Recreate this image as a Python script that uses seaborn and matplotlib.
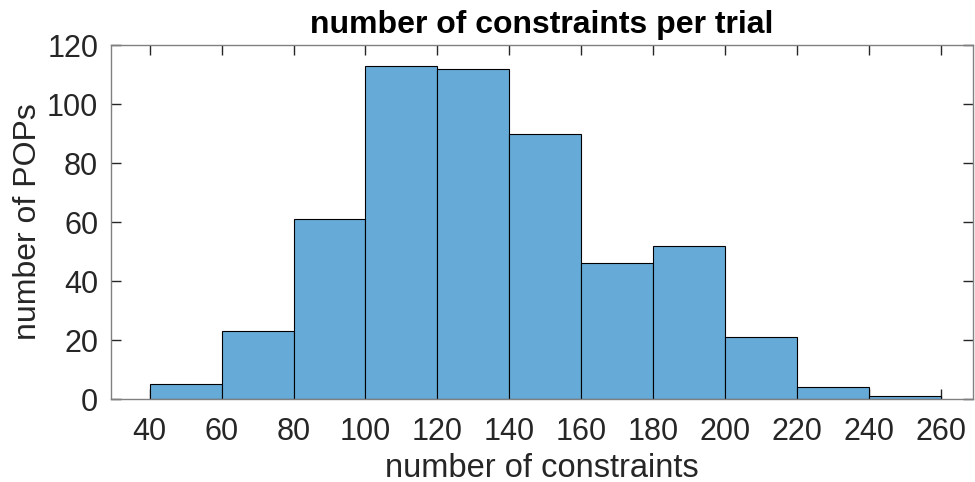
import matplotlib
matplotlib.use("Agg")
import matplotlib.pyplot as plt
import seaborn as sns
import pandas as pd

bin_edges = [40, 60, 80, 100, 120, 140, 160, 180, 200, 220, 240, 260]
counts = [5, 23, 61, 113, 112, 90, 46, 52, 21, 4, 1]
x_ticks = [40, 60, 80, 100, 120, 140, 160, 180, 200, 220, 240, 260]
y_ticks = [0, 20, 40, 60, 80, 100, 120]

centers = [(a + b) / 2 for a, b in zip(bin_edges[:-1], bin_edges[1:])]
df = pd.DataFrame({"constraints": centers, "count": counts})

sns.set_theme(style="white")
plt.rcParams['font.family'] = ['Liberation Sans', 'DejaVu Sans']

fig = plt.figure(figsize=(9.75, 4.82), dpi=100)
ax = fig.add_axes([0.1135, 0.172, 0.8845, 0.7345])

sns.histplot(data=df, x="constraints", weights="count", bins=bin_edges,
             color=(0.4, 0.668, 0.845), alpha=1.0, edgecolor="black",
             linewidth=0.8, ax=ax)

ax.set_xlim(29.2, 268.8)
ax.set_ylim(0, 120)
ax.set_xticks(x_ticks)
ax.set_yticks(y_ticks)

axcol = "#262626"
for s in ax.spines.values():
    s.set_visible(True)
    s.set_color("#808080")
    s.set_linewidth(1.0)
ax.tick_params(axis="both", which="both", direction="in", length=7, width=1.0,
               color="#262626", labelsize=22, labelcolor=axcol,
               top=True, right=True, bottom=True, left=True)
ax.tick_params(axis="x", pad=13)
ax.tick_params(axis="y", pad=9)

ax.set_xlabel("number of constraints", fontsize=23.5, color=axcol, labelpad=4)
ax.set_ylabel("number of POPs", fontsize=23, color=axcol, labelpad=3)
ax.set_title("number of constraints per trial", fontsize=23, fontweight="bold",
             color="black", pad=9)

fig.savefig("out.png", dpi=100)
